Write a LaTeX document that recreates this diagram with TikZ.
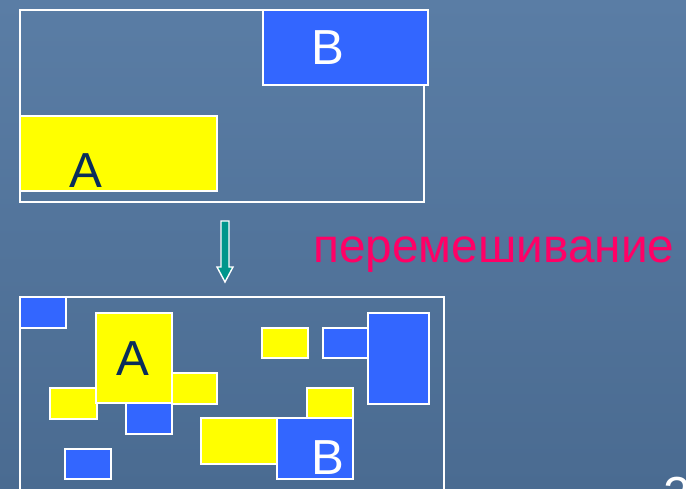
\documentclass[tikz,border=0pt]{standalone}
\usepackage{fontspec}
\setmainfont{Liberation Sans}
\usetikzlibrary{positioning}

\definecolor{bgtop}{RGB}{90,125,165}
\definecolor{bgbot}{RGB}{74,107,145}
\definecolor{yelA}{RGB}{255,255,0}
\definecolor{bluB}{RGB}{51,102,255}
\definecolor{navyA}{RGB}{10,45,90}
\definecolor{pinkT}{RGB}{255,0,102}
\definecolor{tealR}{RGB}{0,150,140}

\begin{document}
\begin{tikzpicture}[
  x=0.02cm, y=-0.02cm,
  frame/.style={draw=white, line width=0.9pt},
  ablk/.style={draw=white, line width=0.9pt, fill=yelA},
  bblk/.style={draw=white, line width=0.9pt, fill=bluB},
  lbl/.style={font=\fontsize{28}{30}\selectfont, inner sep=0pt, anchor=base},
]

% background
\useasboundingbox (0,0) rectangle (686,489);
\fill[top color=bgtop, bottom color=bgbot] (0,0) rectangle (686,489);

% --- before ---
\draw[frame] (20,10) rectangle (424,202);
\draw[bblk] (263,10) rectangle (428,85);
\draw[ablk] (20,116) rectangle (217,191);
\node[lbl, text=white] (b1) at (328,65) {B};
\node[lbl, text=navyA] (a1) at (86,188) {A};

% --- arrow ---
\filldraw[fill=tealR, draw=white, line width=0.8pt]
  (221,221) -- (229,221) -- (229,267) -- (233,267) -- (225,282)
  -- (217,267) -- (221,267) -- cycle;
\node[inner sep=0pt, anchor=base west, text=pinkT,
      font=\fontsize{27.2}{29}\selectfont] (mix) at (313,263) {перемешивание};

% --- after ---
\draw[frame] (20,297) rectangle (444,500);
\draw[bblk] (20,297) rectangle (66,328);
\draw[ablk] (50,388) rectangle (97,419);
\draw[ablk] (172,373) rectangle (217,404);
\draw[ablk] (96,313) rectangle (172,403);
\draw[bblk] (126,403) rectangle (172,434);
\draw[bblk] (65,449) rectangle (111,479);
\draw[ablk] (262,328) rectangle (308,358);
\draw[bblk] (323,328) rectangle (369,358);
\draw[bblk] (368,313) rectangle (429,404);
\draw[ablk] (307,388) rectangle (353,419);
\draw[ablk] (201,418) rectangle (279,464);
\draw[bblk] (277,418) rectangle (353,479);
\node[lbl, text=navyA] (a2) at (133,376) {A};
\node[lbl, text=white] (b2) at (328,474) {B};

% slide number
\node[lbl, anchor=base west, text=white] (num) at (663,511) {2};

\end{tikzpicture}
\end{document}
